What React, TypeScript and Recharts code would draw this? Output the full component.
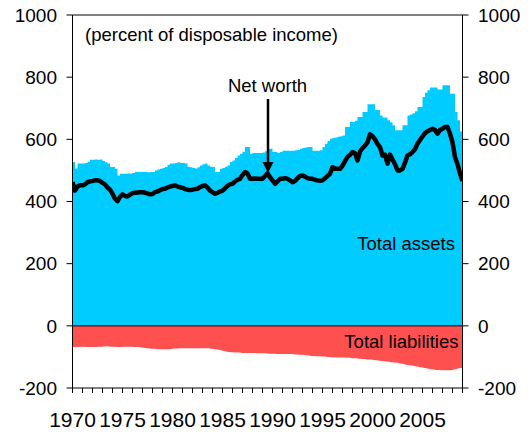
import React from "react";
import { ComposedChart, Area, Line, XAxis, YAxis, ReferenceLine } from "recharts";

const FIRST_YEAR = 1970;

// quarterly values, 1970Q1 .. 2009Q1, percent of disposable income
const totalAssets = [
  527, 506, 522, 522, // 1970
  522, 524, 528, 534,
  534, 535, 534, 535,
  530, 526, 522, 511,
  511, 505, 484, 489,
  489, 489, 490, 490, // 1975
  492, 495, 495, 495,
  495, 495, 494, 495,
  495, 500, 503, 505,
  508, 511, 518, 522,
  522, 524, 526, 524, // 1980
  524, 522, 512, 510,
  508, 506, 510, 516,
  520, 522, 516, 512,
  511, 495, 495, 505,
  508, 512, 516, 527, // 1985
  532, 540, 548, 554,
  560, 575, 575, 554,
  556, 556, 556, 556,
  558, 562, 570, 570,
  559, 559, 556, 559, // 1990
  563, 563, 563, 563,
  563, 565, 566, 570,
  572, 574, 575, 575,
  563, 563, 563, 565,
  575, 586, 595, 602, // 1995
  604, 606, 608, 610,
  612, 640, 640, 656,
  656, 660, 672, 672,
  688, 688, 713, 713,
  713, 694, 694, 677, // 2000
  670, 670, 661, 655,
  645, 629, 629, 629,
  645, 645, 677, 680,
  684, 690, 704, 704,
  736, 750, 758, 767, // 2005
  767, 767, 760, 760,
  774, 774, 774, 747,
  747, 688, 661, 625,
  619, // 2009
];

const netWorth = [
  462, 435, 448, 452, // 1970
  452, 455, 462, 465,
  466, 468, 468, 466,
  460, 455, 445, 438,
  425, 409, 401, 415,
  423, 418, 416, 422, // 1975
  427, 428, 429, 430,
  430, 428, 426, 423,
  424, 430, 432, 436,
  440, 441, 445, 448,
  450, 452, 448, 446, // 1980
  444, 440, 438, 437,
  438, 440, 441, 446,
  450, 452, 445, 435,
  430, 425, 428, 432,
  435, 442, 450, 455, // 1985
  457, 465, 470, 473,
  485, 495, 490, 473,
  473, 474, 473, 473,
  473, 482, 491, 478,
  468, 457, 465, 473, // 1990
  473, 475, 473, 468,
  462, 466, 475, 482,
  484, 480, 475, 473,
  473, 470, 468, 467,
  468, 475, 482, 489, // 1995
  511, 505, 505, 505,
  515, 530, 543, 550,
  559, 555, 532, 560,
  572, 580, 590, 616,
  610, 600, 585, 575, // 2000
  548, 551, 522, 551,
  535, 520, 500, 500,
  505, 525, 548, 552,
  559, 568, 586, 598,
  609, 620, 626, 630, // 2005
  634, 630, 618, 630,
  634, 640, 640, 618,
  590, 543, 520, 490,
  466, // 2009
];

const totalLiabilities = [
  -68, -68, -68, -67, // 1970
  -67, -67, -68, -68,
  -68, -68, -67, -67,
  -67, -66, -66, -67,
  -67, -67, -68, -68,
  -67, -67, -67, -67, // 1975
  -67, -68, -68, -69,
  -70, -71, -72, -73,
  -74, -74, -75, -75,
  -75, -75, -75, -75,
  -74, -73, -73, -72, // 1980
  -72, -72, -72, -72,
  -72, -72, -72, -72,
  -72, -72, -72, -73,
  -74, -75, -76, -78,
  -80, -82, -83, -84, // 1985
  -85, -86, -86, -86,
  -87, -87, -87, -87,
  -87, -87, -88, -88,
  -88, -88, -89, -90,
  -90, -90, -91, -91, // 1990
  -91, -91, -91, -91,
  -91, -92, -92, -93,
  -93, -94, -95, -96,
  -97, -97, -98, -98,
  -99, -99, -100, -100, // 1995
  -101, -101, -102, -102,
  -102, -102, -103, -103,
  -104, -104, -105, -106,
  -107, -107, -108, -108,
  -109, -110, -111, -112, // 2000
  -113, -114, -115, -116,
  -117, -118, -119, -121,
  -122, -124, -126, -127,
  -128, -130, -131, -133,
  -134, -136, -137, -139, // 2005
  -140, -141, -142, -142,
  -143, -143, -143, -143,
  -142, -140, -138, -136,
  -136, // 2009
];

const yearTicks = [
  1970, 1971, 1972, 1973, 1974, 1975, 1976, 1977, 1978, 1979,
  1980, 1981, 1982, 1983, 1984, 1985, 1986, 1987, 1988, 1989,
  1990, 1991, 1992, 1993, 1994, 1995, 1996, 1997, 1998, 1999,
  2000, 2001, 2002, 2003, 2004, 2005, 2006, 2007, 2008, 2009,
];
const valueTicks = [-200, 0, 200, 400, 600, 800, 1000];

const data = totalAssets.map((v, i) => ({
  t: FIRST_YEAR + i / 4,
  assets: v,
  net: netWorth[i],
  liab: totalLiabilities[i],
}));

const FONT = "'Liberation Sans', Arial, sans-serif";

const YearTick = (props: any) => {
  const { x, y, payload } = props;
  if (payload.value % 5 !== 0) return null;
  return (
    <text x={x} y={y} dy="0.71em" textAnchor="middle" fontSize={21} fill="#000" fontFamily={FONT}>
      {payload.value}
    </text>
  );
};

const App = () => {
  return (
    <div style={{ position: "absolute", left: 0, top: 0, width: 528, height: 434, background: "#fff" }}>
      <ComposedChart
        width={528}
        height={434}
        data={data}
        margin={{ top: 15, right: 5.5, bottom: 6, left: 12.5 }}
        style={{ fontFamily: FONT }}
      >
        <XAxis
          dataKey="t"
          type="number"
          domain={[1970, 2009]}
          ticks={yearTicks}
          interval={0}
          tick={<YearTick />}
          tickSize={5}
          tickMargin={19}
          height={40}
          stroke="#000"
          allowDataOverflow
        />
        <YAxis
          yAxisId="left"
          type="number"
          domain={[-200, 1000]}
          ticks={valueTicks}
          interval={0}
          width={60}
          tickSize={6}
          tickMargin={9.5}
          stroke="#000"
          tick={{ fill: "#000", fontSize: 19 }}
          allowDataOverflow
        />
        <YAxis
          yAxisId="right"
          orientation="right"
          type="number"
          domain={[-200, 1000]}
          ticks={valueTicks}
          interval={0}
          width={60}
          tickSize={6}
          tickMargin={9.5}
          stroke="#000"
          tick={{ fill: "#000", fontSize: 19, textAnchor: "start" }}
          allowDataOverflow
        />
        <Area
          yAxisId="left"
          dataKey="assets"
          type="stepAfter"
          baseValue={0}
          fill="#00CCFF"
          fillOpacity={1}
          stroke="none"
          isAnimationActive={false}
        />
        <Area
          yAxisId="left"
          dataKey="liab"
          type="monotone"
          baseValue={0}
          fill="#FF5050"
          fillOpacity={1}
          stroke="none"
          isAnimationActive={false}
        />
        <Line
          yAxisId="left"
          dataKey="net"
          type="linear"
          stroke="#000"
          strokeWidth={4.5}
          strokeLinejoin="round"
          dot={false}
          activeDot={false}
          isAnimationActive={false}
        />
        <ReferenceLine yAxisId="left" y={0} stroke="#000" strokeWidth={1} />
        <ReferenceLine yAxisId="left" y={1000} stroke="#000" strokeWidth={1} />
      </ComposedChart>
      <svg
        width={528}
        height={434}
        style={{ position: "absolute", left: 0, top: 0, pointerEvents: "none" }}
        fontFamily={FONT}
        fontSize={18.5}
      >
        <text x={85} y={41} fill="#000">(percent of disposable income)</text>
        <text x={267.5} y={91.5} textAnchor="middle" fill="#000">Net worth</text>
        <line x1={268} y1={99} x2={268} y2={164} stroke="#000" strokeWidth={2.5} />
        <polygon points="262.5,162 273.5,162 268,173" fill="#000" />
        <text x={455} y={250} textAnchor="end" fill="#000">Total assets</text>
        <text x={458.5} y={348} textAnchor="end" fill="#000">Total liabilities</text>
      </svg>
    </div>
  );
};

export default App;
